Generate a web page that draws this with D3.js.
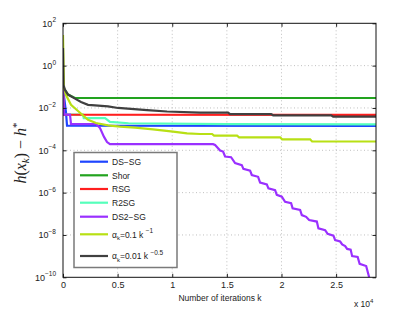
<!DOCTYPE html>
<html><head><meta charset="utf-8">
<script src="https://cdn.jsdelivr.net/npm/d3@7"></script>
<style>body{margin:0;background:#fff}svg{display:block}</style>
</head><body>
<svg id="c" width="415" height="312"></svg>
<script>
// ---------- data ----------
const xTicks = [0, 5000, 10000, 15000, 20000, 25000];
const xTickLabels = ["0", "0.5", "1", "1.5", "2", "2.5"];
const yTicks = [1e2, 1e0, 1e-2, 1e-4, 1e-6, 1e-8, 1e-10];
const yTickExps = ["2", "0", "\u22122", "\u22124", "\u22126", "\u22128", "\u221210"];
const seriesNames = ["DS\u2212SG", "Shor", "RSG", "R2SG", "DS2\u2212SG", "alpha1", "alpha2"];

const dsSgIter = [0, 270, 370, 28650];
const dsSgVal  = [8.9e-2, 6.3e-3, 1.45e-3, 1.42e-3];

const shorIter = [0, 180, 460, 1100, 28650];
const shorVal  = [8.9e-2, 7.1e-2, 4.3e-2, 2.95e-2, 2.95e-2];

const rsgIter = [0, 90, 28650];
const rsgVal  = [8.9e-2, 4.8e-3, 4.7e-3];

const r2sgIter = [0, 90, 1830, 1900, 3850, 4300, 6000, 15000, 28650];
const r2sgVal  = [8.9e-2, 4.8e-3, 4.8e-3, 3.3e-3, 3.3e-3, 2.2e-3, 1.9e-3, 1.74e-3, 1.66e-3];

const ds2SgIter = [0, 90, 641, 733, 3022, 3388, 3755, 4030, 4304, 13737, 13920, 14195, 14378,
  14653, 14836, 15385, 15751, 16365, 16511, 17125, 17281, 17858, 18041, 18655, 18801, 19414,
  19570, 20028, 20330, 20880, 21017, 21704, 21860, 22254, 22529, 23234, 23380, 23994, 24223,
  24754, 24910, 25368, 25551, 25826, 26009, 26329, 26467, 26970, 27153, 27749, 28023];
const ds2SgVal = [8.9e-2, 4.8e-3, 4.8e-3, 1.74e-3, 1.74e-3, 1.12e-3, 4.3e-4, 2.45e-4, 1.95e-4, 1.95e-4,
  1.78e-4, 1.26e-4, 9.8e-5, 8.7e-5, 5.1e-5, 4.7e-5, 2.5e-5, 2.0e-5, 1.32e-5, 1.1e-5, 6.8e-6,
  5.6e-6, 3.0e-6, 2.45e-6, 1.58e-6, 1.32e-6, 7.8e-7, 6.5e-7, 3.7e-7, 3.2e-7, 1.82e-7, 1.51e-7,
  8.7e-8, 7.2e-8, 5.1e-8, 4.3e-8, 2.04e-8, 1.7e-8, 1.12e-8, 9.3e-9, 5.75e-9, 4.9e-9, 3.55e-9,
  3.0e-9, 2.2e-9, 2.04e-9, 1.0e-9, 9.1e-10, 4.3e-10, 3.4e-10, 1.0e-10];

const alpha1Iter = [0, 92, 275, 733, 1374, 2290, 3022, 4121, 5220, 6594, 8242, 10074, 11356,
  12546, 13645, 13828, 15935, 16118, 19873, 20056, 22620, 22803, 28650];
const alpha1Val  = [28, 8.7e-2, 4.1e-2, 1.41e-2, 7.2e-3, 2.75e-3, 1.95e-3, 1.51e-3, 1.32e-3,
  1.17e-3, 9.8e-4, 7.6e-4, 6.3e-4, 5.9e-4, 5.9e-4, 4.9e-4, 4.9e-4, 4.1e-4, 4.1e-4, 3.3e-4,
  3.3e-4, 2.6e-4, 2.6e-4];

const alpha2Iter = [0, 46, 183, 458, 1099, 1648, 2290, 2931, 4121, 5037, 7693, 9524, 12546,
  15110, 15294, 19049, 19232, 24544, 24727, 28650];
const alpha2Val  = [6.8, 0.12, 7.1e-2, 4.3e-2, 2.75e-2, 1.9e-2, 1.41e-2, 1.32e-2, 1.2e-2, 1.0e-2,
  7.9e-3, 6.8e-3, 6.0e-3, 6.0e-3, 5.1e-3, 5.1e-3, 4.5e-3, 4.5e-3, 3.9e-3, 3.9e-3];

const colors = ["#1f45ff", "#22a31f", "#ff1f1f", "#55ffbb", "#9a30ff", "#b8e014", "#404040"];

// ---------- layout ----------
const svg = d3.select("#c");
const L = 63, R = 376, T = 23.3, B = 277.3;
const x = d3.scaleLinear().domain([0, 28650]).range([L, R]);
const y = d3.scaleLog().domain([1e-10, 1e2]).range([B, T]);
const font = "Liberation Sans, Arial, sans-serif";

svg.append("rect").attr("x", L).attr("y", T).attr("width", R - L).attr("height", B - T).attr("fill", "#fff");

// grid
const grid = svg.append("g").attr("stroke", "#b0b0b0").attr("stroke-width", 0.8).attr("stroke-dasharray", "1,2.5");
xTicks.forEach(t => { if (t > 0) grid.append("line").attr("x1", x(t)).attr("x2", x(t)).attr("y1", T).attr("y2", B); });
yTicks.forEach(t => { if (t < 1e2 && t > 1e-10) grid.append("line").attr("x1", L).attr("x2", R).attr("y1", y(t)).attr("y2", y(t)); });

// series lines
const series = [
  [dsSgIter, dsSgVal, 0], [shorIter, shorVal, 1], [r2sgIter, r2sgVal, 3], [rsgIter, rsgVal, 2],
  [ds2SgIter, ds2SgVal, 4], [alpha1Iter, alpha1Val, 5], [alpha2Iter, alpha2Val, 6]
];
svg.append("clipPath").attr("id", "clip").append("rect").attr("x", L).attr("y", T).attr("width", R - L).attr("height", B - T);
const line = d3.line().x(d => x(d[0])).y(d => y(d[1]));
const lg = svg.append("g").attr("clip-path", "url(#clip)");
series.forEach(([it, v, ci]) => {
  lg.append("path").datum(it.map((d, i) => [d, v[i]]))
    .attr("d", line).attr("fill", "none").attr("stroke", colors[ci])
    .attr("stroke-width", 2.2).attr("stroke-linejoin", "miter");
});

// axes with inward ticks
const ax = svg.append("g");
ax.append("g").attr("transform", `translate(0,${B})`)
  .call(d3.axisBottom(x).tickValues(xTicks).tickSize(-3.5).tickPadding(4).tickFormat((d, i) => xTickLabels[i]))
  .call(g => { g.select(".domain").remove(); g.selectAll("text").attr("font-size", 9).attr("font-family", font).attr("fill", "#222"); });
ax.append("g").attr("transform", `translate(0,${T})`)
  .call(d3.axisTop(x).tickValues(xTicks).tickSize(-3.5).tickFormat(""))
  .call(g => g.select(".domain").remove());
ax.append("g").attr("transform", `translate(${L},0)`)
  .call(d3.axisLeft(y).tickValues(yTicks).tickSize(-3.5).tickPadding(8).tickFormat(""))
  .call(g => g.select(".domain").remove());
ax.append("g").attr("transform", `translate(${R},0)`)
  .call(d3.axisRight(y).tickValues(yTicks).tickSize(-3.5).tickFormat(""))
  .call(g => g.select(".domain").remove());
svg.selectAll(".tick line").attr("stroke", "#222");
svg.append("rect").attr("x", L).attr("y", T).attr("width", R - L).attr("height", B - T)
  .attr("fill", "none").attr("stroke", "#111").attr("stroke-width", 1);

// y tick labels with superscript
yTicks.forEach((t, i) => {
  const tx = svg.append("text").attr("x", 56).attr("y", y(t) + 3.5).attr("text-anchor", "end")
    .attr("font-family", font).attr("font-size", 9).attr("fill", "#222");
  tx.append("tspan").text("10");
  tx.append("tspan").attr("dy", -4.5).attr("font-size", 6.5).text(yTickExps[i]);
});

// x axis labels
svg.append("text").attr("x", 220).attr("y", 301).attr("text-anchor", "middle")
  .attr("font-family", font).attr("font-size", 8.5).attr("fill", "#222").text("Number of iterations k");
const xe = svg.append("text").attr("x", 354).attr("y", 307).attr("font-family", font).attr("font-size", 8.5).attr("fill", "#222");
xe.append("tspan").text("x 10");
xe.append("tspan").attr("dy", -4).attr("font-size", 6).text("4");

// y axis label
const yl = svg.append("text").attr("transform", "translate(26,153) rotate(-90)").attr("text-anchor", "middle")
  .attr("font-family", "Liberation Serif, Times New Roman, serif").attr("font-size", 16).attr("fill", "#222");
yl.append("tspan").attr("font-style", "italic").text("h");
yl.append("tspan").text("(");
yl.append("tspan").attr("font-style", "italic").text("x");
yl.append("tspan").attr("font-style", "italic").attr("font-size", 11).attr("dy", 3).text("k");
yl.append("tspan").attr("dy", -3).text(") \u2212 ");
yl.append("tspan").attr("font-style", "italic").text("h");
yl.append("tspan").attr("font-size", 11).attr("dy", -6).text("*");

// legend
const leg = svg.append("g");
leg.append("rect").attr("x", 74).attr("y", 152.5).attr("width", 103).attr("height", 115)
  .attr("fill", "#fff").attr("stroke", "#7a7a7a").attr("stroke-width", 1.5);
const legY = [161.7, 175.3, 189, 202.7, 216.7, 234.3, 256];
seriesNames.forEach((n, i) => {
  leg.append("line").attr("x1", 80).attr("x2", 108).attr("y1", legY[i]).attr("y2", legY[i])
    .attr("stroke", colors[i]).attr("stroke-width", 2.2);
  const t = leg.append("text").attr("x", 112).attr("y", legY[i] + 3.3)
    .attr("font-family", font).attr("font-size", 8.5).attr("fill", "#222");
  if (n === "alpha1" || n === "alpha2") {
    t.append("tspan").text("\u03b1");
    t.append("tspan").attr("dy", 2.5).attr("font-size", 6).text("k");
    t.append("tspan").attr("dy", -2.5).text(n === "alpha1" ? "=0.1 k " : "=0.01 k ");
    t.append("tspan").attr("dy", -4.5).attr("font-size", 6.5).text(n === "alpha1" ? "\u22121" : "\u22120.5");
  } else {
    t.text(n);
  }
});
</script>
</body></html>
